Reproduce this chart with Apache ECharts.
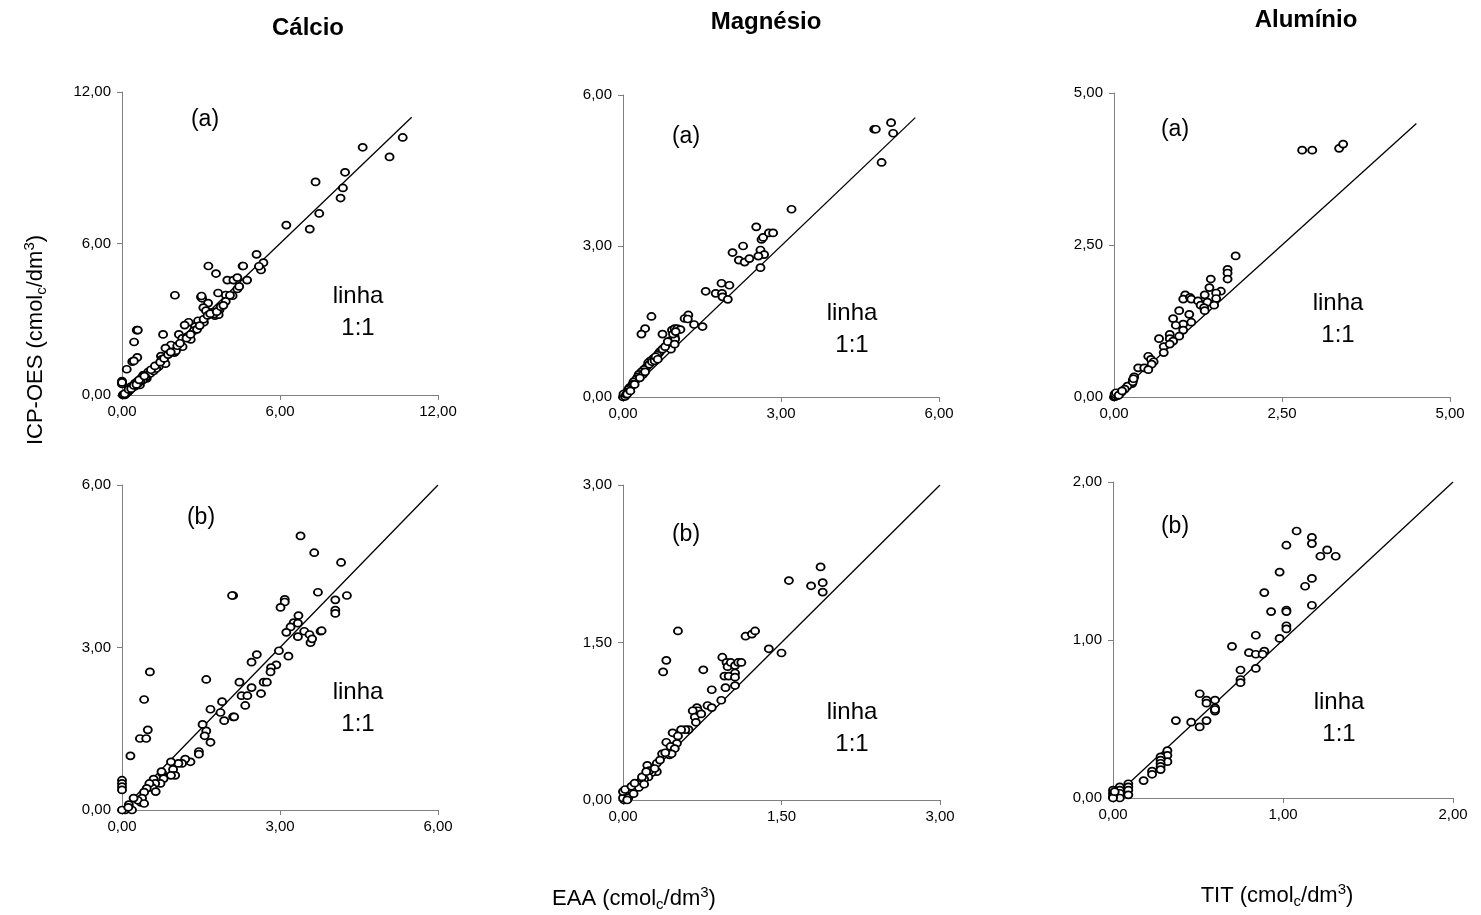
<!DOCTYPE html>
<html lang="pt">
  <head>
    <meta charset="UTF-8" />
    <title>ICP-OES x EAA / TIT</title>
    <script src="https://cdn.jsdelivr.net/npm/echarts@6/dist/echarts.min.js"></script>
    <style>
      html, body { margin: 0; padding: 0; background: #fff; }
    </style>
  </head>
  <body>
    <div id="main" style="width: 1481px; height: 915px"></div>
    <script type="text/javascript">
      // pontos [x, y]
      const caA = [[10.66,10.2],[9.14,9.81],[10.16,9.43],[8.47,8.82],[7.35,8.44],[8.39,8.2],[8.3,7.8],[7.49,7.19],[6.24,6.73],[7.13,6.57],[5.11,5.57],[5.37,5.24],[5.28,4.95],[4.58,5.11],[4.6,5.11],[3.28,5.11],[3.57,4.81],[4.0,4.55],[4.23,4.55],[4.38,4.65],[4.75,4.55],[4.38,4.2],[4.2,3.93],[3.94,3.96],[3.65,4.04],[3.94,3.71],[3.0,3.88],[3.04,3.83],[3.02,3.92],[2.01,3.95],[3.27,3.64],[3.09,3.46],[3.19,3.34],[3.42,3.27],[3.53,3.14],[3.7,3.37],[3.67,3.18],[3.48,3.2],[3.11,2.88],[2.89,2.94],[2.77,2.71],[2.53,2.88],[2.38,2.77],[2.16,2.4],[2.73,2.55],[2.48,2.31],[2.29,2.24],[2.61,2.2],[2.3,1.91],[1.86,1.98],[1.99,1.68],[2.05,1.75],[1.65,1.86],[1.56,2.4],[1.48,1.54],[1.51,1.41],[1.65,1.24],[1.39,1.12],[1.19,1.04],[1.0,0.92],[0.81,0.79],[0.75,0.69],[0.58,0.53],[0.49,0.46],[0.34,0.33],[0.24,0.13],[0.11,0],[0.03,0],[0.56,2.57],[0.6,2.57],[0.46,2.1],[0.58,1.49],[0.39,1.32],[0.45,1.35],[0.18,1.02],[0,0.55],[0,0.44],[0,0.5],[0.94,0.66],[0.68,0.4],[1.07,0.85],[1.2,0.95],[1.3,1.05],[0.9,0.7],[0.8,0.6],[0.7,0.55],[0.6,0.45],[0.5,0.35],[0.4,0.3],[0.3,0.2],[0.2,0.1],[0.15,0.05],[0.05,0.02],[0.1,0.05],[0.25,0.22],[0.35,0.25],[0.45,0.38],[0.55,0.42],[0.65,0.6],[0.85,0.75],[1.1,1.0],[1.25,1.15],[1.45,1.3],[1.6,1.45],[1.75,1.6],[1.85,1.7],[2.1,1.95],[2.2,2.05],[2.45,2.25],[2.6,2.4],[2.85,2.6],[2.95,2.75],[3.1,3.0],[3.25,3.15],[3.35,3.22],[3.6,3.3],[3.75,3.5],[3.85,3.55],[4.1,3.95],[4.45,4.3],[5.2,5.1]];
      const mgA = [[4.77,5.32],[4.8,5.32],[5.09,5.45],[5.13,5.24],[4.91,4.66],[3.2,3.73],[2.53,3.38],[2.63,3.13],[2.66,3.17],[2.77,3.26],[2.85,3.26],[2.61,2.92],[2.68,2.83],[2.57,2.8],[2.61,2.57],[2.28,3.0],[2.08,2.87],[2.2,2.72],[2.31,2.68],[2.4,2.75],[1.87,2.26],[2.02,2.22],[1.76,2.06],[1.88,2.06],[1.89,1.99],[1.99,1.94],[1.57,2.1],[1.51,1.4],[1.35,1.44],[1.24,1.63],[1.17,1.56],[1.23,1.55],[0.54,1.6],[0.42,1.36],[0.35,1.25],[0.75,1.25],[0.93,1.33],[0.98,1.36],[1.03,1.36],[1.09,1.34],[0.98,1.2],[0.9,1.12],[0.99,1.15],[0.86,1.03],[0.91,0.95],[0.7,0.9],[0.68,0.87],[0.65,0.83],[0.58,0.77],[0.52,0.72],[0.48,0.68],[0.45,0.6],[0.4,0.55],[0.35,0.5],[0.3,0.45],[0.28,0.4],[0.25,0.35],[0.2,0.3],[0.18,0.25],[0.15,0.2],[0.12,0.18],[0.1,0.15],[0.08,0.1],[0.05,0.08],[0.03,0.05],[0.02,0.02],[0,0],[0.01,0.06],[0.04,0.01],[0.5,0.65],[0.55,0.7],[0.6,0.72],[0.62,0.8],[0.75,0.95],[0.8,1.0],[0.85,1.1],[0.95,1.25],[1.0,1.3],[0.38,0.45],[0.42,0.5],[0.32,0.38],[0.22,0.25],[0.06,0.05],[0.08,0.06],[0.14,0.12],[0.98,1.05],[0.66,0.75]];
      const alA = [[2.8,4.06],[2.95,4.06],[3.35,4.09],[3.41,4.16],[1.81,2.32],[1.69,2.1],[1.69,2.04],[1.69,1.94],[1.44,1.94],[1.42,1.8],[1.59,1.74],[1.52,1.71],[1.52,1.62],[1.35,1.68],[1.06,1.68],[1.03,1.61],[1.13,1.64],[1.15,1.61],[1.25,1.58],[1.29,1.51],[1.39,1.56],[1.34,1.47],[1.49,1.51],[1.35,1.42],[0.97,1.42],[1.12,1.36],[0.88,1.29],[1.03,1.2],[0.92,1.18],[1.15,1.23],[1.03,1.1],[0.83,1.03],[0.97,1.0],[0.67,0.96],[0.83,0.96],[0.88,0.92],[0.74,0.83],[0.83,0.87],[0.74,0.73],[0.51,0.67],[0.55,0.62],[0.59,0.58],[0.56,0.54],[0.36,0.48],[0.45,0.48],[0.51,0.45],[0.3,0.33],[0.28,0.28],[0.27,0.22],[0.2,0.18],[0.16,0.13],[0.11,0.08],[0.04,0.04],[0,0],[0.02,0.01],[0.05,0.02],[0.08,0.05],[0.01,0.05],[0.03,0.07],[0.07,0.03],[0.28,0.25],[0.29,0.3],[0.12,0.1]];
      const caB = [[3.39,5.06],[3.65,4.75],[4.16,4.57],[2.11,3.96],[2.09,3.96],[4.27,3.96],[3.72,4.02],[3.09,3.89],[3.09,3.84],[3.01,3.74],[4.05,3.88],[4.05,3.69],[4.05,3.63],[3.35,3.59],[3.26,3.46],[3.34,3.45],[3.2,3.38],[3.12,3.28],[3.46,3.3],[3.34,3.2],[3.56,3.24],[3.58,3.09],[3.61,3.16],[3.77,3.3],[3.79,3.31],[2.56,2.87],[2.46,2.73],[2.98,2.94],[3.16,2.84],[2.93,2.68],[2.83,2.63],[2.82,2.55],[2.69,2.36],[2.75,2.36],[2.64,2.15],[2.46,2.26],[2.23,2.36],[2.27,2.11],[2.38,2.11],[2.34,1.93],[2.11,1.72],[2.13,1.72],[1.94,1.65],[1.9,2.0],[1.87,1.8],[1.68,1.86],[1.6,2.41],[1.6,1.46],[1.53,1.58],[1.57,1.37],[1.68,1.25],[1.46,1.08],[1.46,1.03],[1.3,0.89],[1.2,0.94],[1.14,0.86],[1.07,0.86],[0.93,0.89],[0.97,0.75],[1.01,0.64],[0.93,0.64],[0.76,0.68],[0.75,0.71],[0.79,0.58],[0.73,0.49],[0.6,0.57],[0.63,0.49],[0.58,0.41],[0.64,0.34],[0.52,0.49],[0.47,0.4],[0.42,0.33],[0.36,0.14],[0.38,0.22],[0.3,0.18],[0.22,0.22],[0.13,0.1],[0.06,0],[0,0],[0.19,0],[0.53,2.55],[0.42,2.04],[0.49,1.48],[0.34,1.32],[0.46,1.32],[0.16,1.0],[0,0.55],[0,0.49],[0,0.43],[0,0.37],[0.12,0.05],[0.42,0.12]];
      const mgB = [[1.87,2.22],[1.57,2.09],[1.78,2.04],[1.89,2.07],[1.89,1.98],[0.52,1.61],[0.41,1.33],[0.38,1.22],[1.16,1.56],[1.22,1.58],[1.25,1.61],[1.38,1.44],[1.5,1.4],[0.76,1.24],[0.94,1.36],[0.98,1.31],[0.99,1.27],[1.02,1.31],[1.06,1.28],[1.09,1.31],[1.12,1.31],[1.06,1.21],[0.96,1.18],[1.0,1.18],[1.06,1.17],[1.06,1.09],[0.97,1.07],[0.84,1.05],[0.93,0.95],[0.8,0.9],[0.84,0.88],[0.7,0.88],[0.68,0.85],[0.71,0.85],[0.66,0.85],[0.68,0.79],[0.74,0.82],[0.69,0.74],[0.62,0.67],[0.59,0.67],[0.55,0.67],[0.47,0.64],[0.52,0.61],[0.41,0.55],[0.51,0.54],[0.45,0.51],[0.49,0.49],[0.37,0.44],[0.44,0.43],[0.46,0.44],[0.32,0.35],[0.23,0.33],[0.32,0.27],[0.27,0.26],[0.24,0.22],[0.2,0.2],[0.17,0.18],[0.14,0.15],[0.12,0.12],[0.09,0.1],[0.06,0.07],[0.03,0.04],[0.01,0.0],[0,0.02],[0.05,0.02],[0,0.08],[0.02,0.1],[0.1,0.06],[0.15,0.12],[0.2,0.15],[0.25,0.28],[0.3,0.3],[0.35,0.38],[0.4,0.45],[0.18,0.22],[0.08,0.13],[0.04,0.0],[0.11,0.16],[0.22,0.27]];
      const alB = [[1.08,1.69],[1.02,1.6],[1.17,1.65],[1.17,1.61],[1.26,1.57],[1.22,1.53],[1.31,1.53],[0.98,1.43],[1.17,1.39],[1.13,1.34],[0.89,1.3],[1.17,1.22],[0.93,1.18],[1.02,1.19],[1.02,1.18],[1.02,1.09],[1.02,1.07],[0.84,1.03],[0.98,1.01],[0.7,0.96],[0.8,0.92],[0.84,0.91],[0.89,0.93],[0.88,0.91],[0.84,0.82],[0.75,0.81],[0.75,0.75],[0.75,0.73],[0.51,0.66],[0.55,0.62],[0.55,0.6],[0.6,0.62],[0.6,0.57],[0.6,0.55],[0.6,0.56],[0.37,0.49],[0.46,0.48],[0.51,0.45],[0.55,0.49],[0.32,0.3],[0.32,0.27],[0.32,0.23],[0.28,0.26],[0.28,0.24],[0.28,0.22],[0.28,0.2],[0.28,0.18],[0.23,0.17],[0.23,0.15],[0.18,0.11],[0.09,0.09],[0.09,0.07],[0.09,0.05],[0.09,0.02],[0.04,0.07],[0.04,0.05],[0.04,0.03],[0.04,0],[0,0.05],[0,0.03],[0,0.01],[0,0],[0.01,0.04]];

      // maximo dos eixos (x = y) e ponto final da linha 1:1
      const axisMax = [12, 6, 5, 6, 3, 2];
      const lineEnd = [11, 5.55, 4.5, 6, 3, 2];
      const panelData = [caA, mgA, alA, caB, mgB, alB];
      const panelTag = ["(a)", "(a)", "(a)", "(b)", "(b)", "(b)"];
      const titles = ["Cálcio", "Magnésio", "Alumínio"];

      const font = "Liberation Sans, Arial, sans-serif";
      const grids = [
        { left: 122, top: 92, width: 316, height: 303 },
        { left: 623, top: 95, width: 316, height: 302 },
        { left: 1114, top: 93, width: 336, height: 304 },
        { left: 122, top: 485, width: 316, height: 325 },
        { left: 623, top: 485, width: 317, height: 315 },
        { left: 1113, top: 482, width: 340, height: 316 },
      ];
      const fmt = (v) => v.toFixed(2).replace(".", ",");

      const axisBase = (i) => ({
        gridIndex: i,
        type: "value",
        min: 0,
        max: axisMax[i],
        interval: axisMax[i] / 2,
        splitLine: { show: false },
        axisLine: { show: true, lineStyle: { color: "#7f7f7f", width: 1 } },
        axisTick: { show: true, length: 5, lineStyle: { color: "#7f7f7f" } },
        axisLabel: { formatter: fmt, color: "#000", fontSize: 15, fontFamily: font },
      });

      const xAxes = [], yAxes = [], series = [];
      for (let i = 0; i < 6; i++) {
        let xa = axisBase(i);
        xa.axisLabel.margin = 9;
        let ya = axisBase(i);
        ya.axisLabel.margin = 11;
        xAxes.push(xa);
        yAxes.push(ya);
        series.push({
          type: "line",
          xAxisIndex: i,
          yAxisIndex: i,
          data: [[0, 0], [lineEnd[i], lineEnd[i]]],
          symbol: "none",
          lineStyle: { color: "#000", width: 1.3 },
          z: 2,
        });
        series.push({
          type: "scatter",
          xAxisIndex: i,
          yAxisIndex: i,
          data: panelData[i],
          symbol: "circle",
          symbolSize: [8, 7],
          itemStyle: { color: "#fff", borderColor: "#000", borderWidth: 1.8, opacity: 1 },
          z: 3,
        });
      }

      // textos: titulos, (a)/(b), "linha 1:1", titulos dos eixos
      const graphics = [];
      const titlePos = [[308, 28], [766, 22], [1306, 20]];
      titles.forEach((t, k) => {
        graphics.push({
          type: "text", x: titlePos[k][0], y: titlePos[k][1],
          style: { text: t, font: "bold 24px " + font, fill: "#000", align: "center", verticalAlign: "middle" },
        });
      });
      const tagPos = [[205, 120], [686, 137], [1175, 130], [201, 518], [686, 535], [1175, 527]];
      const linhaPos = [[358, 312], [852, 329], [1338, 319], [358, 708], [852, 728], [1339, 718]];
      for (let i = 0; i < 6; i++) {
        graphics.push({
          type: "text", x: tagPos[i][0], y: tagPos[i][1],
          style: { text: panelTag[i], font: "23px " + font, fill: "#000", align: "center", verticalAlign: "middle" },
        });
        graphics.push({
          type: "text", x: linhaPos[i][0], y: linhaPos[i][1],
          style: { text: "linha\n1:1", font: "24px " + font, lineHeight: 32, fill: "#000", align: "center", verticalAlign: "middle" },
        });
      }
      const unitRich = {
        sub: { fontSize: 15, fontFamily: font, lineHeight: 14, verticalAlign: "bottom" },
        sup: { fontSize: 15, fontFamily: font, lineHeight: 14, verticalAlign: "top" },
      };
      const axisTitle = (txt, x, y, rot) => ({
        type: "text", x: x, y: y, rotation: rot,
        style: { text: txt, font: "22px " + font, lineHeight: 27, fill: "#000", align: "center", verticalAlign: "middle", rich: unitRich },
      });
      graphics.push(axisTitle("ICP-OES (cmol{sub|c}/dm{sup|3})", 36, 340, Math.PI / 2));
      graphics.push(axisTitle("EAA (cmol{sub|c}/dm{sup|3})", 634, 899, 0));
      graphics.push(axisTitle("TIT (cmol{sub|c}/dm{sup|3})", 1277, 896, 0));

      let myChart = echarts.init(document.getElementById("main"));
      myChart.setOption({
        animation: false,
        backgroundColor: "#fff",
        grid: grids,
        xAxis: xAxes,
        yAxis: yAxes,
        series: series,
        graphic: graphics,
      });
    </script>
  </body>
</html>
